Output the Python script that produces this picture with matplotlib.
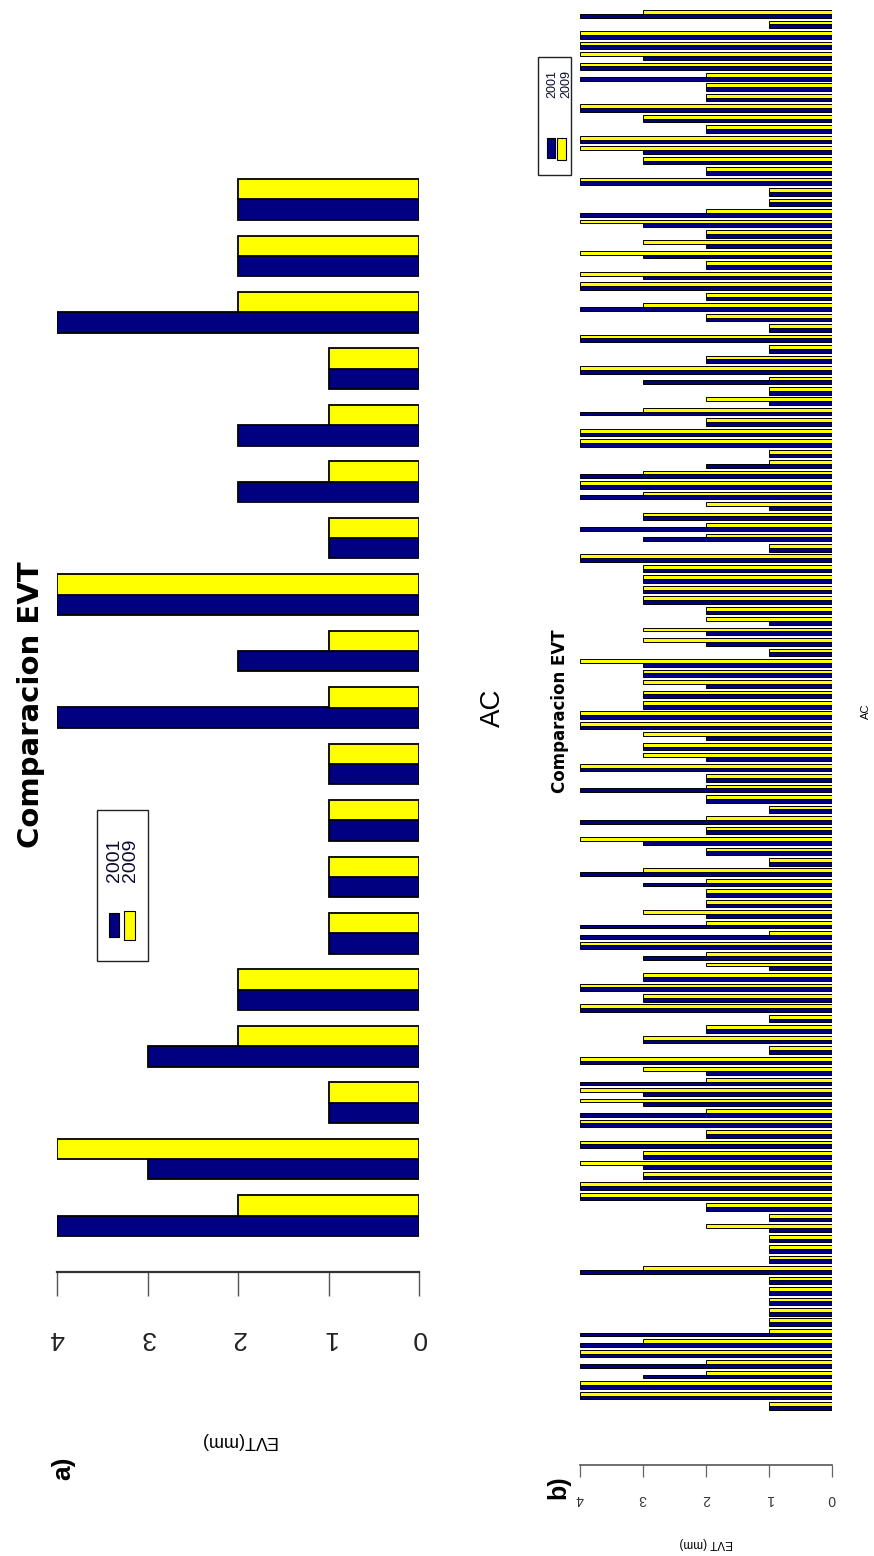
import matplotlib
matplotlib.use("Agg")
import matplotlib.pyplot as plt
import numpy as np
from matplotlib.patches import Rectangle

# ---------------- data ----------------
series_labels = ["2001", "2009"]
value_ticks = [0, 1, 2, 3, 4]

# panel a: 19 AC units
evt_a_2001 = [4, 3, 1, 3, 2, 1, 1, 1, 1, 4, 2, 4, 1, 2, 2, 1, 4, 2, 2]
evt_a_2009 = [2, 4, 1, 2, 2, 1, 1, 1, 1, 1, 1, 4, 1, 1, 1, 1, 2, 2, 2]

# panel b: 134 AC units
evt_b_2001 = [
    1, 4, 4, 3, 4, 4, 4, 4, 1, 1,
    1, 1, 1, 4, 1, 1, 1, 1, 1, 2,
    4, 4, 3, 3, 3, 4, 2, 4, 4, 3,
    3, 4, 2, 4, 1, 3, 2, 1, 4, 3,
    4, 3, 1, 3, 4, 4, 4, 2, 2, 2,
    3, 4, 1, 2, 3, 2, 4, 1, 2, 4,
    2, 4, 2, 3, 2, 4, 4, 3, 3, 2,
    3, 3, 1, 2, 2, 1, 2, 3, 3, 3,
    3, 4, 1, 3, 4, 3, 1, 4, 4, 4,
    2, 1, 4, 4, 2, 4, 1, 1, 3, 4,
    2, 1, 4, 1, 2, 4, 2, 4, 3, 2,
    3, 2, 2, 3, 4, 1, 1, 4, 2, 3,
    3, 4, 2, 3, 4, 2, 2, 4, 4, 3,
    4, 4, 1, 4,
]
evt_b_2009 = [
    1, 4, 4, 2, 2, 4, 3, 1, 1, 1,
    1, 1, 1, 3, 1, 1, 1, 2, 1, 2,
    4, 4, 3, 4, 3, 4, 2, 4, 2, 4,
    4, 2, 3, 4, 1, 3, 2, 1, 4, 3,
    4, 3, 2, 2, 4, 1, 2, 3, 2, 2,
    2, 3, 1, 2, 4, 2, 2, 1, 2, 2,
    2, 4, 3, 3, 3, 4, 4, 3, 3, 3,
    3, 4, 1, 3, 3, 2, 2, 3, 3, 3,
    3, 4, 1, 2, 2, 3, 2, 3, 4, 3,
    1, 1, 4, 4, 2, 3, 2, 1, 1, 4,
    2, 1, 4, 1, 2, 3, 2, 4, 4, 2,
    4, 3, 2, 4, 2, 1, 1, 4, 2, 3,
    4, 4, 2, 3, 4, 2, 2, 2, 4, 4,
    4, 4, 1, 3,
]

NAVY = "#000080"
YELLOW = "#FFFF00"

W, H = 874, 1556
fig = plt.figure(figsize=(W / 100, H / 100), dpi=100)
fig.patch.set_facecolor("white")


def box(x0, y0, x1, y1):
    """Figure-fraction rectangle from pixel box measured from the top-left."""
    return [x0 / W, 1 - y1 / H, (x1 - x0) / W, (y1 - y0) / H]


def fx(x):
    return x / W


def fy(y):
    return 1 - y / H


def draw_panel(ax, v2001, v2009, bar_lw, ylim):
    n = len(v2001)
    pos = np.arange(1, n + 1)
    w = 0.36
    ax.barh(pos - w / 2, v2001, height=w, color=NAVY, edgecolor="black",
            linewidth=bar_lw)
    ax.barh(pos + w / 2, v2009, height=w, color=YELLOW, edgecolor="black",
            linewidth=bar_lw)
    ax.set_xlim(4, 0)
    ax.set_ylim(*ylim)
    ax.set_xticks(value_ticks)
    ax.set_yticks([])
    for s in ("left", "right", "top"):
        ax.spines[s].set_visible(False)
    ax.set_facecolor("none")


def draw_legend(x0, y0, x1, y1, patch_boxes, text_pos, fs):
    fig.add_artist(Rectangle((fx(x0), fy(y1)), fx(x1) - fx(x0), fy(y0) - fy(y1),
                             transform=fig.transFigure, facecolor="white",
                             edgecolor="#222222", linewidth=1.0))
    for (px0, py0, px1, py1), col in zip(patch_boxes, [NAVY, YELLOW]):
        fig.add_artist(Rectangle((fx(px0), fy(py1)), fx(px1) - fx(px0),
                                 fy(py0) - fy(py1), transform=fig.transFigure,
                                 facecolor=col, edgecolor="black", linewidth=0.8))
    for (tx, ty), lab in zip(text_pos, series_labels):
        fig.text(fx(tx), fy(ty), lab, rotation=90, ha="center", va="center",
                 fontsize=fs, family="Liberation Sans", color="#0a0a30")


# ---------------- panel a ----------------
ax_a = fig.add_axes(box(57, 143, 419, 1272))
draw_panel(ax_a, evt_a_2001, evt_a_2009, 1.3, (0, 20))
ax_a.spines["bottom"].set_color("#333333")
ax_a.spines["bottom"].set_linewidth(1.6)
ax_a.tick_params(axis="x", direction="out", length=17, width=1.0,
                 color="#555555", labelrotation=180, labelsize=19, pad=22,
                 labelcolor="#222222")
for t in ax_a.get_xticklabels():
    t.set_family("Liberation Sans")
ax_a.set_xlabel("EVT(mm)", rotation=180, fontsize=13, family="Liberation Sans",
                labelpad=59)
ax_a.yaxis.set_label_position("right")
ax_a.set_ylabel("AC", rotation=90, fontsize=20, family="Liberation Sans",
                labelpad=44)
fig.text(fx(31), fy(705), "Comparacion EVT", rotation=90, ha="center",
         va="center", fontsize=21, fontweight="bold", family="DejaVu Sans")
fig.text(fx(63), fy(1468), "a)", rotation=90, ha="center", va="center",
         fontsize=19, fontweight="bold", family="Liberation Sans")
draw_legend(97, 810, 148, 961,
            [(109, 913, 119, 937), (124, 911, 135, 940)],
            [(114, 860), (130, 860)], 14)

# ---------------- panel b ----------------
ax_b = fig.add_axes(box(580, 3, 832, 1465))
draw_panel(ax_b, evt_b_2001, evt_b_2009, 0.7, (-4.64, 135.05))
ax_b.spines["bottom"].set_color("#555555")
ax_b.spines["bottom"].set_linewidth(1.2)
ax_b.tick_params(axis="x", direction="out", length=8.5, width=0.9,
                 color="#666666", labelrotation=180, labelsize=10, pad=11,
                 labelcolor="#333333")
for t in ax_b.get_xticklabels():
    t.set_family("Liberation Sans")
ax_b.set_xlabel("EVT (mm)", rotation=180, fontsize=8.5, family="Liberation Sans",
                labelpad=22)
ax_b.yaxis.set_label_position("right")
ax_b.set_ylabel("AC", rotation=90, fontsize=8, family="Liberation Sans")
ax_b.yaxis.set_label_coords((861 - 580) / 252, (1465 - 711) / 1462)
fig.text(fx(560), fy(711), "Comparacion EVT", rotation=90, ha="center",
         va="center", fontsize=12, fontweight="bold", family="DejaVu Sans")
fig.text(fx(558), fy(1487), "b)", rotation=90, ha="center", va="center",
         fontsize=18, fontweight="bold", family="Liberation Sans")
draw_legend(538, 57, 571, 175,
            [(547, 138, 555, 158), (557, 138, 566, 160)],
            [(552, 84), (566, 84)], 9)

fig.savefig("out.png", dpi=100, facecolor="white")
